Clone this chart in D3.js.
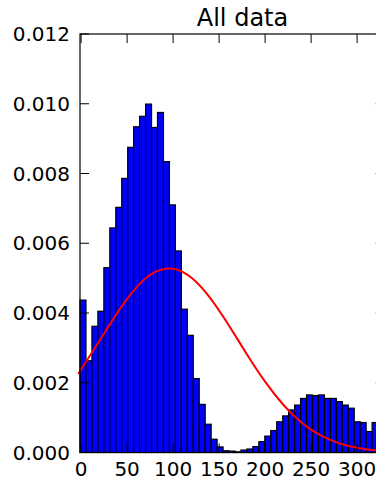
<!DOCTYPE html>
<html>
<head>
<meta charset="utf-8">
<script src="https://cdn.jsdelivr.net/npm/d3@7/dist/d3.min.js"></script>
<style>
  html, body { margin: 0; padding: 0; background: #fff; overflow: hidden; }
  svg { display: block; }
  text { font-family: "DejaVu Sans", sans-serif; fill: #000; }
</style>
</head>
<body>
<svg id="chart" width="376" height="480"></svg>
<script>
// Histogram bin layout (data units)
const binStart = -1.2;
const binWidth = 6.48;

// Normalised bin heights (density)
const density = [
  0.00437, 0.00263, 0.00362, 0.00405, 0.00530, 0.00644, 0.00703, 0.00786,
  0.00875, 0.00934, 0.00964, 0.00999, 0.00932, 0.00975, 0.00834, 0.00710,
  0.00578, 0.00411, 0.00336, 0.00212, 0.00138, 0.00081, 0.00038, 0.00016,
  0.00005, 0.00004, 0.00002, 0.00007, 0.00010, 0.00017, 0.00031, 0.00047,
  0.00063, 0.00088, 0.00105, 0.00122, 0.00136, 0.00155, 0.00165, 0.00163,
  0.00165, 0.00155, 0.00155, 0.00146, 0.00136, 0.00127, 0.00088, 0.00086,
  0.00060, 0.00086
];

// Fitted normal density curve
const fitX = [-1.2, 0, 20, 40, 60, 80, 100, 120, 140, 160, 180, 200, 220, 240, 260, 280, 300, 320, 340];
const fitY = [0.002326, 0.002378, 0.003207, 0.004033, 0.004729, 0.005170, 0.005270, 0.005010,
              0.004440, 0.003669, 0.002827, 0.002031, 0.001361, 0.000850, 0.000495, 0.000269,
              0.000136, 0.0000642, 0.0000283];

// Axis ticks
const xTicks = [0, 50, 100, 150, 200, 250, 300];
const yTicks = [0.000, 0.002, 0.004, 0.006, 0.008, 0.010, 0.012];
const title = "All data";

const svg = d3.select("#chart");
const plotLeft = 80, plotTop = 34, plotBottom = 452.5;
const pxPerUnit = 0.92;
const xMax = 330;
const plotRight = plotLeft + (xMax - binStart) * pxPerUnit;

const x = d3.scaleLinear().domain([binStart, xMax]).range([plotLeft, plotRight]);
const y = d3.scaleLinear().domain([0, 0.012]).range([plotBottom, plotTop]);

const bins = density.map((v, i) => ({
  x0: binStart + i * binWidth,
  x1: binStart + (i + 1) * binWidth,
  v
}));

// Bars
svg.append("g")
  .selectAll("rect")
  .data(bins)
  .join("rect")
  .attr("x", d => x(d.x0))
  .attr("y", d => y(d.v))
  .attr("width", d => x(d.x1) - x(d.x0))
  .attr("height", d => y(0) - y(d.v))
  .attr("fill", "#0000ff")
  .attr("stroke", "#000")
  .attr("stroke-width", 1.2);

// Fitted curve
const fit = fitX.map((v, i) => [v, fitY[i]]);
svg.append("path")
  .datum(fit)
  .attr("fill", "none")
  .attr("stroke", "#ff0000")
  .attr("stroke-width", 2)
  .attr("d", d3.line().x(d => x(d[0])).y(d => y(d[1])).curve(d3.curveNatural));

// Frame
svg.append("rect")
  .attr("x", plotLeft).attr("y", plotTop)
  .attr("width", plotRight - plotLeft).attr("height", plotBottom - plotTop)
  .attr("fill", "none").attr("stroke", "#000").attr("stroke-width", 1.2);

// Inward ticks, matplotlib style, on all sides
const tickLen = 9;
const g = svg.append("g").attr("stroke", "#000").attr("stroke-width", 1);
yTicks.forEach(t => {
  g.append("line").attr("x1", plotLeft).attr("x2", plotLeft + tickLen).attr("y1", y(t)).attr("y2", y(t));
  g.append("line").attr("x1", plotRight).attr("x2", plotRight - tickLen).attr("y1", y(t)).attr("y2", y(t));
});
xTicks.forEach(t => {
  g.append("line").attr("x1", x(t)).attr("x2", x(t)).attr("y1", plotTop).attr("y2", plotTop + tickLen);
  g.append("line").attr("x1", x(t)).attr("x2", x(t)).attr("y1", plotBottom).attr("y2", plotBottom - tickLen);
});

// Tick labels
const fmtY = d3.format(".3f");
svg.append("g").selectAll("text")
  .data(yTicks).join("text")
  .attr("x", plotLeft - 10)
  .attr("y", d => y(d))
  .attr("dy", "0.36em")
  .attr("text-anchor", "end")
  .style("font-size", "20px")
  .text(d => fmtY(d));

svg.append("g").selectAll("text")
  .data(xTicks).join("text")
  .attr("x", d => x(d))
  .attr("y", 476)
  .attr("text-anchor", "middle")
  .style("font-size", "20px")
  .text(d => d);

// Title
svg.append("text")
  .attr("x", 242.5)
  .attr("y", 26)
  .attr("text-anchor", "middle")
  .style("font-size", "24px")
  .text(title);
</script>
</body>
</html>
